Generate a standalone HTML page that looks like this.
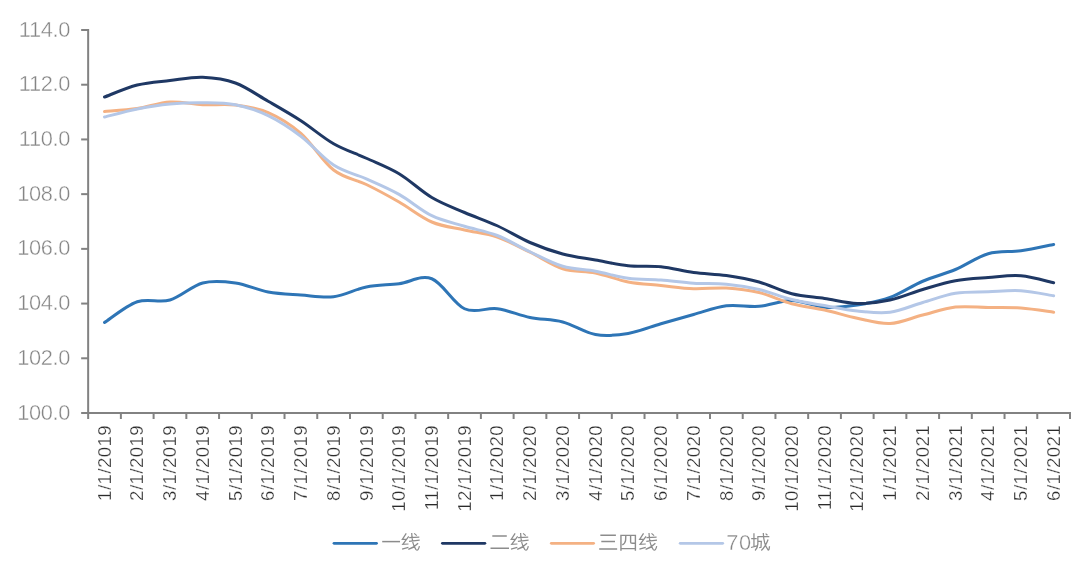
<!DOCTYPE html>
<html><head><meta charset="utf-8"><title>chart</title>
<style>
html,body{margin:0;padding:0;background:#fff;}
body{width:1080px;height:568px;overflow:hidden;}
svg{display:block;}
text{font-family:"Liberation Sans",sans-serif;}
.yl{font-size:21.8px;fill:#858585;text-anchor:end;stroke:#fff;stroke-width:0.4px;letter-spacing:-0.3px;}
.xl{font-size:18.6px;fill:#2b2b2b;text-anchor:end;stroke:#fff;stroke-width:0.3px;letter-spacing:0.45px;}
.lg{font-size:21.8px;fill:#858585;stroke:#fff;stroke-width:0.4px;letter-spacing:0.6px;}
.s{fill:none;stroke-width:3.0;stroke-linecap:round;stroke-linejoin:round;}
.cj{fill:none;stroke:#8c8c8c;stroke-width:1.25;stroke-linecap:butt;stroke-linejoin:miter;}
</style></head><body>
<svg width="1080" height="568" viewBox="0 0 1080 568">
<rect width="1080" height="568" fill="#fff"/>

<g stroke="#828282" stroke-width="2" fill="none" shape-rendering="auto">
<path d="M88.15,29.00 V414.00"/>
<path d="M81.15,413.00 H1071.00"/>
<path d="M81.15,30.00 H88.15"/>
<path d="M81.15,84.71 H88.15"/>
<path d="M81.15,139.43 H88.15"/>
<path d="M81.15,194.14 H88.15"/>
<path d="M81.15,248.86 H88.15"/>
<path d="M81.15,303.57 H88.15"/>
<path d="M81.15,358.29 H88.15"/>
<path d="M88.15,413.00 V419.00"/>
<path d="M120.88,413.00 V419.00"/>
<path d="M153.61,413.00 V419.00"/>
<path d="M186.34,413.00 V419.00"/>
<path d="M219.06,413.00 V419.00"/>
<path d="M251.79,413.00 V419.00"/>
<path d="M284.52,413.00 V419.00"/>
<path d="M317.25,413.00 V419.00"/>
<path d="M349.98,413.00 V419.00"/>
<path d="M382.71,413.00 V419.00"/>
<path d="M415.43,413.00 V419.00"/>
<path d="M448.16,413.00 V419.00"/>
<path d="M480.89,413.00 V419.00"/>
<path d="M513.62,413.00 V419.00"/>
<path d="M546.35,413.00 V419.00"/>
<path d="M579.07,413.00 V419.00"/>
<path d="M611.80,413.00 V419.00"/>
<path d="M644.53,413.00 V419.00"/>
<path d="M677.26,413.00 V419.00"/>
<path d="M709.99,413.00 V419.00"/>
<path d="M742.72,413.00 V419.00"/>
<path d="M775.44,413.00 V419.00"/>
<path d="M808.17,413.00 V419.00"/>
<path d="M840.90,413.00 V419.00"/>
<path d="M873.63,413.00 V419.00"/>
<path d="M906.36,413.00 V419.00"/>
<path d="M939.09,413.00 V419.00"/>
<path d="M971.81,413.00 V419.00"/>
<path d="M1004.54,413.00 V419.00"/>
<path d="M1037.27,413.00 V419.00"/>
<path d="M1070.00,413.00 V419.00"/>
</g>
<g opacity="0.999">
<text class="yl" x="70.2" y="36.50">114.0</text>
<text class="yl" x="70.2" y="91.21">112.0</text>
<text class="yl" x="70.2" y="145.93">110.0</text>
<text class="yl" x="70.2" y="200.64">108.0</text>
<text class="yl" x="70.2" y="255.36">106.0</text>
<text class="yl" x="70.2" y="310.07">104.0</text>
<text class="yl" x="70.2" y="364.79">102.0</text>
<text class="yl" x="70.2" y="419.50">100.0</text>
<text class="xl" transform="translate(110.71,424.9) rotate(-90)">1/1/2019</text>
<text class="xl" transform="translate(143.44,424.9) rotate(-90)">2/1/2019</text>
<text class="xl" transform="translate(176.17,424.9) rotate(-90)">3/1/2019</text>
<text class="xl" transform="translate(208.90,424.9) rotate(-90)">4/1/2019</text>
<text class="xl" transform="translate(241.63,424.9) rotate(-90)">5/1/2019</text>
<text class="xl" transform="translate(274.36,424.9) rotate(-90)">6/1/2019</text>
<text class="xl" transform="translate(307.08,424.9) rotate(-90)">7/1/2019</text>
<text class="xl" transform="translate(339.81,424.9) rotate(-90)">8/1/2019</text>
<text class="xl" transform="translate(372.54,424.9) rotate(-90)">9/1/2019</text>
<text class="xl" transform="translate(405.27,424.9) rotate(-90)">10/1/2019</text>
<text class="xl" transform="translate(438.00,424.9) rotate(-90)">11/1/2019</text>
<text class="xl" transform="translate(470.73,424.9) rotate(-90)">12/1/2019</text>
<text class="xl" transform="translate(503.45,424.9) rotate(-90)">1/1/2020</text>
<text class="xl" transform="translate(536.18,424.9) rotate(-90)">2/1/2020</text>
<text class="xl" transform="translate(568.91,424.9) rotate(-90)">3/1/2020</text>
<text class="xl" transform="translate(601.64,424.9) rotate(-90)">4/1/2020</text>
<text class="xl" transform="translate(634.37,424.9) rotate(-90)">5/1/2020</text>
<text class="xl" transform="translate(667.10,424.9) rotate(-90)">6/1/2020</text>
<text class="xl" transform="translate(699.82,424.9) rotate(-90)">7/1/2020</text>
<text class="xl" transform="translate(732.55,424.9) rotate(-90)">8/1/2020</text>
<text class="xl" transform="translate(765.28,424.9) rotate(-90)">9/1/2020</text>
<text class="xl" transform="translate(798.01,424.9) rotate(-90)">10/1/2020</text>
<text class="xl" transform="translate(830.74,424.9) rotate(-90)">11/1/2020</text>
<text class="xl" transform="translate(863.47,424.9) rotate(-90)">12/1/2020</text>
<text class="xl" transform="translate(896.19,424.9) rotate(-90)">1/1/2021</text>
<text class="xl" transform="translate(928.92,424.9) rotate(-90)">2/1/2021</text>
<text class="xl" transform="translate(961.65,424.9) rotate(-90)">3/1/2021</text>
<text class="xl" transform="translate(994.38,424.9) rotate(-90)">4/1/2021</text>
<text class="xl" transform="translate(1027.11,424.9) rotate(-90)">5/1/2021</text>
<text class="xl" transform="translate(1059.84,424.9) rotate(-90)">6/1/2021</text>
</g>
<path class="s" stroke="#2e75b6" d="M104.51,322.50 C109.97,319.04 126.33,305.50 137.24,301.75 C148.15,298.00 159.06,303.12 169.97,300.00 C180.88,296.88 191.79,285.83 202.70,283.00 C213.61,280.17 224.52,281.50 235.43,283.00 C246.34,284.50 257.25,290.00 268.16,292.00 C279.07,294.00 289.97,294.21 300.88,295.00 C311.79,295.79 322.70,298.08 333.61,296.75 C344.52,295.42 355.43,289.17 366.34,287.00 C377.25,284.83 388.16,285.12 399.07,283.75 C409.98,282.38 420.89,274.58 431.80,278.75 C442.71,282.92 453.62,303.75 464.53,308.75 C475.44,313.75 486.34,307.29 497.25,308.75 C508.16,310.21 519.07,315.29 529.98,317.50 C540.89,319.71 551.80,319.17 562.71,322.00 C573.62,324.83 584.53,332.60 595.44,334.50 C606.35,336.40 617.26,335.19 628.17,333.40 C639.08,331.61 649.99,326.90 660.90,323.75 C671.81,320.60 682.71,317.50 693.62,314.50 C704.53,311.50 715.44,307.12 726.35,305.75 C737.26,304.38 748.17,307.12 759.08,306.25 C769.99,305.38 780.90,300.33 791.81,300.50 C802.72,300.67 813.63,306.50 824.54,307.25 C835.45,308.00 846.36,306.62 857.27,305.00 C868.18,303.38 879.08,301.46 889.99,297.50 C900.90,293.54 911.81,285.92 922.72,281.25 C933.63,276.58 944.54,274.08 955.45,269.50 C966.36,264.92 977.27,256.88 988.18,253.75 C999.09,250.62 1010.00,252.29 1020.91,250.75 C1031.82,249.21 1048.18,245.54 1053.64,244.50"/>
<path class="s" stroke="#1f3864" d="M104.51,97.00 C109.97,95.00 126.33,87.75 137.24,85.00 C148.15,82.25 159.06,81.79 169.97,80.50 C180.88,79.21 191.79,76.83 202.70,77.25 C213.61,77.67 224.52,79.00 235.43,83.00 C246.34,87.00 257.25,94.96 268.16,101.25 C279.07,107.54 289.97,113.67 300.88,120.75 C311.79,127.83 322.70,137.50 333.61,143.75 C344.52,150.00 355.43,153.25 366.34,158.25 C377.25,163.25 388.16,167.21 399.07,173.75 C409.98,180.29 420.89,191.04 431.80,197.50 C442.71,203.96 453.62,207.79 464.53,212.50 C475.44,217.21 486.34,220.75 497.25,225.75 C508.16,230.75 519.07,237.79 529.98,242.50 C540.89,247.21 551.80,251.08 562.71,254.00 C573.62,256.92 584.53,258.04 595.44,260.00 C606.35,261.96 617.26,264.62 628.17,265.75 C639.08,266.88 649.99,265.62 660.90,266.75 C671.81,267.88 682.71,271.04 693.62,272.50 C704.53,273.96 715.44,273.92 726.35,275.50 C737.26,277.08 748.17,278.96 759.08,282.00 C769.99,285.04 780.90,291.02 791.81,293.75 C802.72,296.48 813.63,296.79 824.54,298.40 C835.45,300.01 846.36,303.13 857.27,303.40 C868.18,303.67 879.08,302.32 889.99,300.00 C900.90,297.68 911.81,292.71 922.72,289.50 C933.63,286.29 944.54,282.75 955.45,280.75 C966.36,278.75 977.27,278.33 988.18,277.50 C999.09,276.67 1010.00,274.88 1020.91,275.75 C1031.82,276.62 1048.18,281.58 1053.64,282.75"/>
<path class="s" stroke="#f4b183" d="M104.51,111.50 C109.97,111.00 126.33,110.08 137.24,108.50 C148.15,106.92 159.06,102.62 169.97,102.00 C180.88,101.38 191.79,104.25 202.70,104.75 C213.61,105.25 224.52,103.69 235.43,105.00 C246.34,106.31 257.25,107.87 268.16,112.60 C279.07,117.33 289.97,123.83 300.88,133.40 C311.79,142.97 322.70,161.48 333.61,170.00 C344.52,178.52 355.43,179.17 366.34,184.50 C377.25,189.83 388.16,195.75 399.07,202.00 C409.98,208.25 420.89,217.33 431.80,222.00 C442.71,226.67 453.62,227.50 464.53,230.00 C475.44,232.50 486.34,233.30 497.25,237.00 C508.16,240.70 519.07,246.91 529.98,252.20 C540.89,257.49 551.80,265.28 562.71,268.75 C573.62,272.22 584.53,270.79 595.44,273.00 C606.35,275.21 617.26,279.92 628.17,282.00 C639.08,284.08 649.99,284.38 660.90,285.50 C671.81,286.62 682.71,288.33 693.62,288.75 C704.53,289.17 715.44,287.38 726.35,288.00 C737.26,288.62 748.17,289.88 759.08,292.50 C769.99,295.12 780.90,300.83 791.81,303.75 C802.72,306.67 813.63,307.58 824.54,310.00 C835.45,312.42 846.36,316.00 857.27,318.25 C868.18,320.50 879.08,324.04 889.99,323.50 C900.90,322.96 911.81,317.73 922.72,315.00 C933.63,312.27 944.54,308.35 955.45,307.10 C966.36,305.85 977.27,307.35 988.18,307.50 C999.09,307.65 1010.00,307.21 1020.91,308.00 C1031.82,308.79 1048.18,311.54 1053.64,312.25"/>
<path class="s" stroke="#b4c7e7" d="M104.51,117.00 C109.97,115.67 126.33,111.17 137.24,109.00 C148.15,106.83 159.06,105.04 169.97,104.00 C180.88,102.96 191.79,102.62 202.70,102.75 C213.61,102.88 224.52,102.61 235.43,104.75 C246.34,106.89 257.25,110.36 268.16,115.60 C279.07,120.84 289.97,127.97 300.88,136.20 C311.79,144.43 322.70,157.88 333.61,165.00 C344.52,172.12 355.43,174.00 366.34,178.90 C377.25,183.80 388.16,188.27 399.07,194.40 C409.98,200.53 420.89,210.39 431.80,215.70 C442.71,221.01 453.62,222.95 464.53,226.25 C475.44,229.55 486.34,231.25 497.25,235.50 C508.16,239.75 519.07,246.62 529.98,251.75 C540.89,256.88 551.80,263.00 562.71,266.25 C573.62,269.50 584.53,269.25 595.44,271.25 C606.35,273.25 617.26,276.79 628.17,278.25 C639.08,279.71 649.99,279.17 660.90,280.00 C671.81,280.83 682.71,282.54 693.62,283.25 C704.53,283.96 715.44,283.21 726.35,284.25 C737.26,285.29 748.17,286.96 759.08,289.50 C769.99,292.04 780.90,296.82 791.81,299.50 C802.72,302.18 813.63,303.68 824.54,305.60 C835.45,307.52 846.36,309.89 857.27,311.00 C868.18,312.11 879.08,313.67 889.99,312.25 C900.90,310.83 911.81,305.67 922.72,302.50 C933.63,299.33 944.54,295.04 955.45,293.25 C966.36,291.46 977.27,292.17 988.18,291.75 C999.09,291.33 1010.00,290.08 1020.91,290.75 C1031.82,291.42 1048.18,294.92 1053.64,295.75"/>
<path class="s" stroke="#2e75b6" style="stroke-width:2.8" d="M334.0,543.3 H376.5"/>
<path class="s" stroke="#1f3864" style="stroke-width:2.8" d="M442.4,543.3 H484.9"/>
<path class="s" stroke="#f4b183" style="stroke-width:2.8" d="M551.3,543.3 H593.6"/>
<path class="s" stroke="#b4c7e7" style="stroke-width:2.8" d="M680.2,543.3 H722.7"/>
<path class="cj" style="stroke-width:1.5" d="M382.2,541.6 H400"/>
<g transform="translate(398.00,529.00)"><path class="cj" d="M8.24,4.35 L4.35,10.3 L8.9,10.2 M10.75,7.3 L4.8,15.4 L10.5,15.0 M4.1,20.1 L10.4,18.3 M11.2,8.7 L21.3,8.15 M11.0,12.35 L21.7,11.2 M13.7,4.1 C13.9,10.5 15.3,17.2 18.0,20.6 C19.6,22.2 20.8,20.2 21.4,17.2 M20.1,14.2 C17.5,17 14,19.2 10.3,20.4 M16.2,4.35 L18.8,6.6"/></g>
<path class="cj" style="stroke-width:1.5" d="M492.3,535.9 H506.8 M490.5,548.3 H509"/>
<g transform="translate(506.90,529.00)"><path class="cj" d="M8.24,4.35 L4.35,10.3 L8.9,10.2 M10.75,7.3 L4.8,15.4 L10.5,15.0 M4.1,20.1 L10.4,18.3 M11.2,8.7 L21.3,8.15 M11.0,12.35 L21.7,11.2 M13.7,4.1 C13.9,10.5 15.3,17.2 18.0,20.6 C19.6,22.2 20.8,20.2 21.4,17.2 M20.1,14.2 C17.5,17 14,19.2 10.3,20.4 M16.2,4.35 L18.8,6.6"/></g>
<path class="cj" style="stroke-width:1.5" d="M600.35,535.3 H615.9 M601.3,541.6 H615 M599.2,548.9 H617.15"/>
<path class="cj" style="stroke-width:1.4" d="M620.95,550.75 V535.4 H635.4 V550.75 M620.95,548.6 H635.4 M625.8,535.4 L625.6,540.2 C625.4,542.5 624.2,543.8 622.3,544.8 M630.6,535.4 V542 C630.6,543 631.2,543.2 632.2,543.2 H635.4"/>
<g transform="translate(635.30,529.00)"><path class="cj" d="M8.24,4.35 L4.35,10.3 L8.9,10.2 M10.75,7.3 L4.8,15.4 L10.5,15.0 M4.1,20.1 L10.4,18.3 M11.2,8.7 L21.3,8.15 M11.0,12.35 L21.7,11.2 M13.7,4.1 C13.9,10.5 15.3,17.2 18.0,20.6 C19.6,22.2 20.8,20.2 21.4,17.2 M20.1,14.2 C17.5,17 14,19.2 10.3,20.4 M16.2,4.35 L18.8,6.6"/></g>
<g transform="translate(748.00,529.00)"><path class="cj" d="M3.2,9.6 L8.7,9.6 M5.95,4.35 L5.95,17.4 M3.0,18.5 L8.9,16.9 M9.4,7.55 L21.3,7.55 M9.85,7.55 L9.85,15.1 C9.7,18 8.6,20 7.1,21.5 M9.85,12.35 L13.3,12.35 L13.0,18.3 L11.2,18.6 M15.3,3.9 C15.5,11 17.5,17.5 20.1,21.0 C21,21.6 21.3,19 21.5,17.2 M20.1,10.5 C18.5,15 16,19 13.3,21.5 M17.6,4.6 L19.45,6.2"/></g>
<text class="lg" x="726.2" y="550.3">70</text>
</svg></body></html>
